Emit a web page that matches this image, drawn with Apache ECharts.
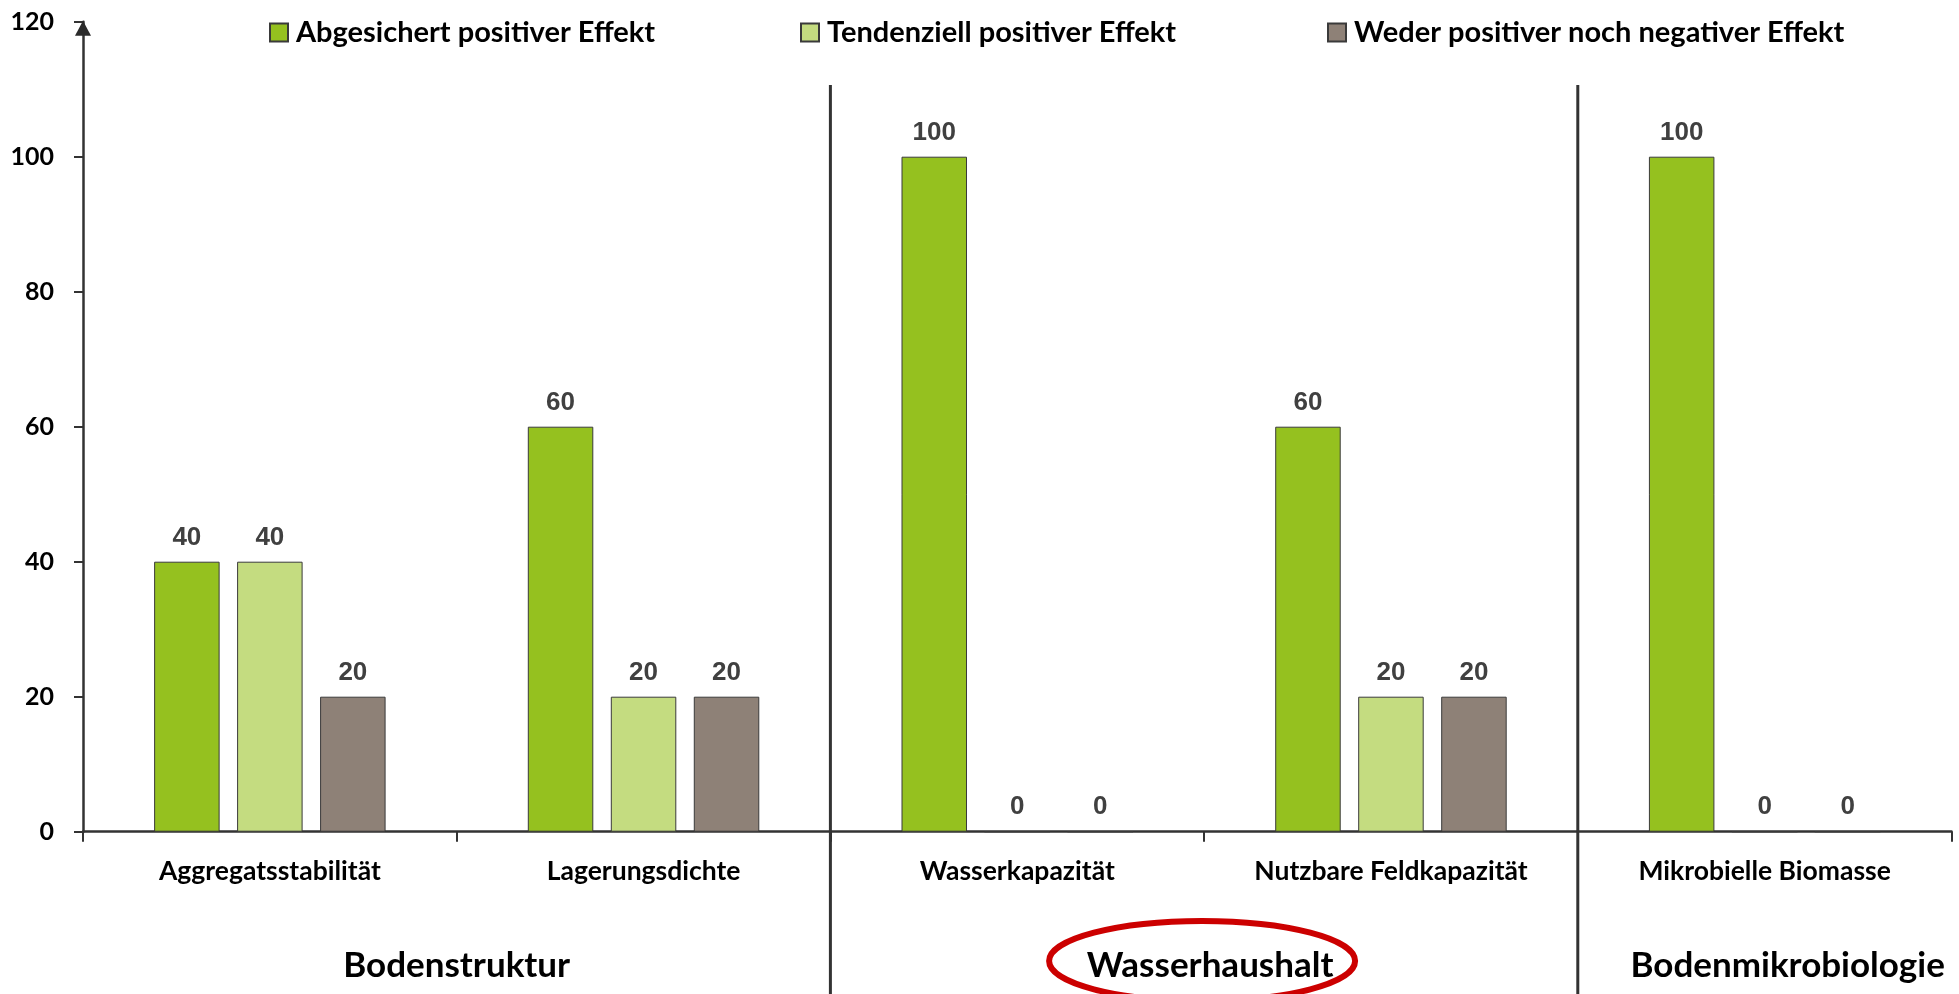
<!DOCTYPE html>
<html>
<head>
<meta charset="utf-8">
<script src="https://cdn.jsdelivr.net/npm/echarts@6/dist/echarts.min.js"></script>
<style>
html,body{margin:0;padding:0;background:#fff;}
#main{width:1959px;height:994px;}
</style>
</head>
<body>
<div id="main"></div>
<script>
const categories = ['Aggregatsstabilität', 'Lagerungsdichte', 'Wasserkapazität', 'Nutzbare Feldkapazität', 'Mikrobielle Biomasse'];
const seriesNames = ['Abgesichert positiver Effekt', 'Tendenziell positiver Effekt', 'Weder positiver noch negativer Effekt'];
const abgesichert = [40, 60, 100, 60, 100];
const tendenziell = [40, 20, 0, 20, 0];
const weder = [20, 20, 0, 20, 0];
const yTickLabels = [0, 20, 40, 60, 80, 100, 120];
const groupNames = ['Bodenstruktur', 'Wasserhaushalt', 'Bodenmikrobiologie'];
const groupFrom = [0, 2, 4];
const groupTo = [1, 3, 4];
const highlightedGroup = 'Wasserhaushalt';

const colors = ['#95C11F', '#C4DC80', '#8E8177'];
const FONT = 'Lato';

const chart = echarts.init(document.getElementById('main'), null, {renderer: 'canvas'});

function mkSeries(name, data, color) {
  return {
    name: name,
    type: 'bar',
    data: data,
    barWidth: 65.5,
    barGap: '26.7%',
    itemStyle: {color: color, borderColor: '#3a3a3a', borderWidth: 1},
    label: {
      show: true,
      position: 'top',
      distance: 11,
      fontFamily: 'Liberation Sans',
      fontWeight: 'bold',
      fontSize: 26,
      color: '#404040'
    },
    emphasis: {disabled: true}
  };
}

const legendLefts = [264, 795, 1322];
const legends = seriesNames.map((n, i) => ({
  data: [n],
  left: legendLefts[i],
  top: 13,
  icon: 'rect',
  itemWidth: 18,
  itemHeight: 18,
  textStyle: {fontFamily: FONT, fontWeight: 'bold', fontSize: 29, color: '#000', padding: [0, 0, 0, 3]},
  selectedMode: false
}));

const option = {
  animation: false,
  backgroundColor: '#fff',
  textStyle: {fontFamily: FONT},
  legend: legends,
  grid: {left: 83, right: 7.5, top: 21.7, bottom: 162.3, containLabel: false},
  xAxis: {
    type: 'category',
    data: categories,
    axisLine: {lineStyle: {color: '#333', width: 2.5}},
    axisTick: {show: true, length: 10, lineStyle: {color: '#333', width: 2}},
    axisLabel: {fontFamily: FONT, fontWeight: 'bold', fontSize: 26.5, color: '#000', margin: 26, interval: 0}
  },
  yAxis: {
    type: 'value',
    min: 0,
    max: 120,
    interval: 20,
    splitLine: {show: false},
    axisLine: {show: true, lineStyle: {color: '#333', width: 2.5}},
    axisTick: {show: true, length: 9, lineStyle: {color: '#333', width: 2}},
    axisLabel: {
      fontFamily: FONT, fontWeight: 'bold', fontSize: 25, color: '#000', margin: 29,
      formatter: function (v) { return yTickLabels.indexOf(v) >= 0 ? String(v) : ''; }
    }
  },
  series: [
    mkSeries(seriesNames[0], abgesichert, colors[0]),
    mkSeries(seriesNames[1], tendenziell, colors[1]),
    mkSeries(seriesNames[2], weder, colors[2])
  ]
};
chart.setOption(option);

// separators, arrow and group labels from the scales
const centers = categories.map(c => chart.convertToPixel({xAxisIndex: 0}, c));
const step = centers[1] - centers[0];
const axisX = centers[0] - step / 2;
const topY = chart.convertToPixel({yAxisIndex: 0}, yTickLabels[yTickLabels.length - 1]);
const graphics = [];
graphics.push({
  type: 'polygon',
  shape: {points: [[axisX, topY - 1], [axisX - 8, topY + 14], [axisX + 8, topY + 14]]},
  style: {fill: '#2b2b2b'},
  z: 12
});
const groupLabelY = 966;
groupNames.forEach((g, i) => {
  const left = centers[groupFrom[i]] - step / 2;
  if (i > 0) {
    graphics.push({type: 'line', shape: {x1: left, y1: 85, x2: left, y2: 994}, style: {stroke: '#333', lineWidth: 3}, z: 10});
  }
  let cx = (centers[groupFrom[i]] + centers[groupTo[i]]) / 2;
  if (groupFrom[i] === groupTo[i]) cx += 23;
  graphics.push({
    type: 'text', x: cx + (g === highlightedGroup ? 6 : 0), y: groupLabelY,
    style: {text: g, fontFamily: FONT, fontWeight: 'bold', fontSize: 35, fill: '#000', align: 'center', verticalAlign: 'middle'},
    z: 10
  });
  if (g === highlightedGroup) {
    graphics.push({type: 'ellipse', shape: {cx: cx - 2, cy: 961, rx: 153, ry: 40}, style: {fill: 'none', stroke: '#CC0000', lineWidth: 6}, z: 11});
  }
});
chart.setOption({graphic: graphics});
</script>
</body>
</html>
